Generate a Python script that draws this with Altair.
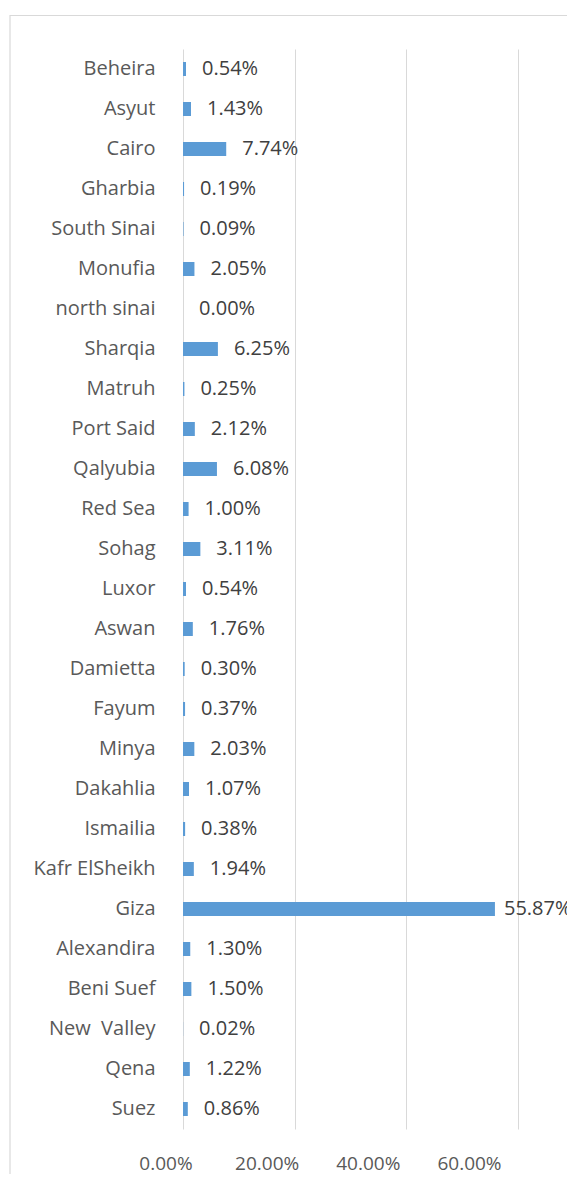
import altair as alt
import pandas as pd

governorates = ["Beheira", "Asyut", "Cairo", "Gharbia", "South Sinai", "Monufia",
                "north sinai", "Sharqia", "Matruh", "Port Said", "Qalyubia", "Red Sea",
                "Sohag", "Luxor", "Aswan", "Damietta", "Fayum", "Minya", "Dakahlia",
                "Ismailia", "Kafr ElSheikh", "Giza", "Alexandira", "Beni Suef",
                "New\u00a0 Valley", "Qena", "Suez"]
shares = [0.0054, 0.0143, 0.0774, 0.0019, 0.0009, 0.0205,
          0.0000, 0.0625, 0.0025, 0.0212, 0.0608, 0.0100,
          0.0311, 0.0054, 0.0176, 0.0030, 0.0037, 0.0203, 0.0107,
          0.0038, 0.0194, 0.5587, 0.0130, 0.0150,
          0.0002, 0.0122, 0.0086]
x_ticks = [0, 0.2, 0.4, 0.6]

df = pd.DataFrame({"gov": governorates, "share": shares})

FONT = "Open Sans"
GRAY = "#595959"

y_enc = alt.Y("gov:N", sort=governorates, title=None,
              scale=alt.Scale(paddingInner=0.65, paddingOuter=0.325),
              axis=alt.Axis(ticks=False, domain=False, grid=False,
                            labelFont=FONT, labelFontSize=20, labelColor=GRAY,
                            labelPadding=28))
x_enc = alt.X("share:Q", title=None,
              scale=alt.Scale(domain=[0, 0.6], nice=False),
              axis=alt.Axis(values=x_ticks, format=".2%", ticks=False, domain=False,
                            grid=True, gridColor="#d9d9d9", gridWidth=1,
                            labelFont=FONT, labelFontSize=19, labelColor=GRAY,
                            labelPadding=25, labelFlush=False, labelOverlap=False,
                            labelOffset={"expr": "-17.5 - datum.value * 52.5"}))

base = alt.Chart(df)

bars = base.mark_bar(color="#5b9bd5").encode(x=x_enc, y=y_enc)

labels_small = base.transform_filter("datum.share < 0.5").mark_text(
    align="left", baseline="middle", dx=16, font=FONT, fontSize=20, color="#404040"
).encode(x="share:Q", y=alt.Y("gov:N", sort=governorates), text=alt.Text("share:Q", format=".2%"))

labels_big = base.transform_filter("datum.share >= 0.5").mark_text(
    align="left", baseline="middle", dx=9, font=FONT, fontSize=20, color="#404040"
).encode(x="share:Q", y=alt.Y("gov:N", sort=governorates), text=alt.Text("share:Q", format=".2%"))

frame = alt.Chart(alt.Data(values=[{}])).mark_rect(
    fill=None, stroke="#d9d9d9", strokeWidth=1.2
).encode(x=alt.value(-173), x2=alt.value(600), y=alt.value(-33.5), y2=alt.value(1300))

chart = alt.layer(frame, bars, labels_small, labels_big).properties(
    width=335, height=1080,
    autosize=alt.AutoSizeParams(type="none"),
    padding={"left": 175, "top": 41, "right": 49, "bottom": 45},
    background="white",
).configure_view(stroke=None)

chart.save("out.html", embed_options={"renderer": "svg", "actions": False})
